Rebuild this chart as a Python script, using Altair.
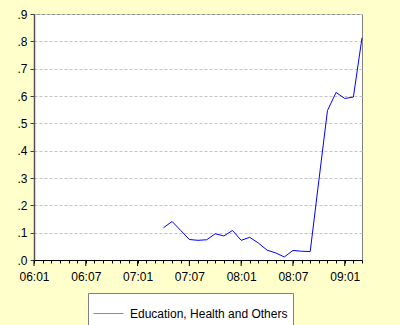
import altair as alt
import pandas as pd

# ---- data ----
periods = ["07:04", "07:05", "07:06", "07:07", "07:08", "07:09", "07:10", "07:11",
           "07:12", "08:01", "08:02", "08:03", "08:04", "08:05", "08:06", "08:07",
           "08:08", "08:09", "08:10", "08:11", "08:12", "09:01", "09:02", "09:03"]
values = [0.118, 0.141, 0.108, 0.075, 0.072, 0.074, 0.096, 0.088,
          0.108, 0.072, 0.083, 0.062, 0.036, 0.026, 0.011, 0.035,
          0.032, 0.031, 0.290, 0.547, 0.613, 0.591, 0.596, 0.813]
series_name = "Education, Health and Others"

x_tick_labels = ["06:01", "06:07", "07:01", "07:07", "08:01", "08:07", "09:01"]
y_tick_values = [0.0, 0.1, 0.2, 0.3, 0.4, 0.5, 0.6, 0.7, 0.8, 0.9]

start_year, start_month = 6, 1
last_period = "09:03"


def month_index(p):
    yy, mm = p.split(":")
    return (int(yy) - start_year) * 12 + int(mm) - start_month


df = pd.DataFrame({
    "t": [month_index(p) for p in periods],
    "v": values,
    "series": series_name,
})

x_max = month_index(last_period)
major_ticks = [month_index(l) for l in x_tick_labels]
minor_ticks = list(range(0, x_max + 1))
label_arr = "[" + ",".join("'%s'" % l for l in x_tick_labels) + "]"
major_df = pd.DataFrame({"t": major_ticks})

PLOT_W, PLOT_H = 328, 246

xscale = alt.Scale(domain=[0, x_max], nice=False, zero=False)
yscale = alt.Scale(domain=[0, 0.9], nice=False)

font = "Liberation Sans"

x_axis = alt.Axis(
    values=minor_ticks,
    labelExpr="datum.value % 6 == 0 ? " + label_arr + "[round(datum.value/6)] : ''",
    title=None, grid=False, tickSize=3, tickColor="#000000",
    domainColor="#000000", domainWidth=1, labelPadding=8,
    labelFontSize=12, labelColor="#000000", labelFont=font,
    labelFlush=False, labelOverlap=False, labelBound=False, orient="bottom")

line = alt.Chart(df).mark_line(strokeWidth=1).encode(
    x=alt.X("t:Q", scale=xscale, axis=x_axis),
    y=alt.Y("v:Q", scale=yscale, axis=alt.Axis(
        values=y_tick_values,
        labelExpr="replace(format(datum.value, '.1f'), '0.', '.')",
        title=None, grid=True, gridColor="#c4c4c4", gridDash=[3, 2],
        gridWidth=1, tickSize=4, tickColor="#404040",
        domainColor="#505050", domainWidth=1.5, labelPadding=3,
        labelFontSize=12, labelColor="#000000", labelFont=font,
        labelFlush=False, labelOverlap=False)),
    color=alt.Color("series:N", scale=alt.Scale(range=["#0000ff"]),
                    legend=alt.Legend(
                        title=None, orient="none", legendX=54, legendY=279,
                        symbolType="stroke", symbolSize=900,
                        symbolStrokeWidth=1, symbolOpacity=0.5,
                        labelFontSize=12, labelFont=font, labelColor="#000000",
                        labelOffset=6, fillColor="#ffffff",
                        strokeColor="#808080", padding=5)),
)

major = alt.Chart(major_df).mark_rule(color="#000000", strokeWidth=1).encode(
    x=alt.X("t:Q", scale=xscale, axis=x_axis),
    y=alt.value(PLOT_H),
    y2=alt.value(PLOT_H + 6),
)

chart = alt.layer(line, major).properties(
    width=PLOT_W, height=PLOT_H,
    background="#ffffcc",
    padding={"left": 34, "top": 14, "right": 38, "bottom": 65},
    autosize=alt.AutoSizeParams(type="none"),
).configure_view(
    stroke="#808080", strokeWidth=1, fill="#ffffff"
).configure_axis(
    labelOverlap=False
)

chart.save("out.html", embed_options={"renderer": "svg", "actions": False})
